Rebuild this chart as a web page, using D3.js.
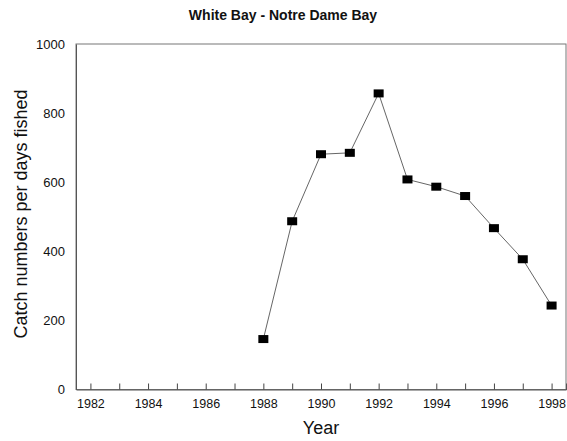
<!DOCTYPE html>
<html><head><meta charset="utf-8">
<script src="https://cdn.jsdelivr.net/npm/d3@7"></script>
<style>body{margin:0;background:#fff;} svg{display:block;} text{font-family:"Liberation Sans",Arial,sans-serif;}</style>
</head><body>
<svg id="c" width="567" height="441"></svg>
<script>
const years = [1988,1989,1990,1991,1992,1993,1994,1995,1996,1997,1998];
const catchValues = [146,487,681,685,857,608,587,560,467,377,243];
const xTickYears = [1982,1983,1984,1985,1986,1987,1988,1989,1990,1991,1992,1993,1994,1995,1996,1997,1998];
const xTickLabels = [1982,1984,1986,1988,1990,1992,1994,1996,1998];
const yTicks = [0,200,400,600,800,1000];
const title = "White Bay - Notre Dame Bay";
const xTitle = "Year";
const yTitle = "Catch numbers per days fished";

const svg = d3.select("#c");
const L=76, R=566, T=44, B=389.5;
const x = d3.scaleLinear().domain([1981.5,1998.5]).range([L,R]);
const y = d3.scaleLinear().domain([0,1000]).range([B,T]);

// frame
svg.append("rect").attr("x",L).attr("y",T).attr("width",R-L).attr("height",B-T)
  .attr("fill","none").attr("stroke","#777").attr("stroke-width",1);

// x axis ticks (inward)
const xAxis = d3.axisBottom(x).tickValues(xTickYears).tickSize(-6)
  .tickFormat(d => xTickLabels.includes(d) ? String(d) : "");
const gx = svg.append("g").attr("transform",`translate(0,${B})`).call(xAxis);
gx.select(".domain").attr("stroke","#555");
gx.selectAll(".tick line").attr("stroke","#444");
gx.selectAll(".tick text").attr("y",10).attr("font-size",12.5).attr("fill","#111")
  .attr("font-family","'Liberation Sans',Arial,sans-serif");

// y axis labels
const yAxis = d3.axisLeft(y).tickValues(yTicks).tickSize(0).tickPadding(11).tickFormat(d => String(d));
const gy = svg.append("g").attr("transform",`translate(${L},0)`).call(yAxis);
gy.select(".domain").attr("stroke","#555");
gy.selectAll(".tick text").attr("font-size",13).attr("fill","#111")
  .attr("font-family","'Liberation Sans',Arial,sans-serif");

// line
const line = d3.line().x((d,i)=>x(years[i])).y(d=>y(d));
svg.append("path").datum(catchValues).attr("d",line)
  .attr("fill","none").attr("stroke","#666").attr("stroke-width",1);

// markers
svg.selectAll("rect.m").data(catchValues).enter().append("rect").attr("class","m")
  .attr("x",(d,i)=>x(years[i])-5).attr("y",d=>y(d)-4)
  .attr("width",10).attr("height",8).attr("fill","#000");

// titles
svg.append("text").attr("x",283).attr("y",20).attr("text-anchor","middle")
  .attr("font-size",14).attr("font-weight","bold").attr("fill","#111").text(title);
svg.append("text").attr("x",321).attr("y",434).attr("text-anchor","middle")
  .attr("font-size",18).attr("fill","#111").text(xTitle);
svg.append("text").attr("transform","translate(27,214) rotate(-90)").attr("text-anchor","middle")
  .attr("font-size",18).attr("fill","#111").text(yTitle);
</script>
</body></html>
